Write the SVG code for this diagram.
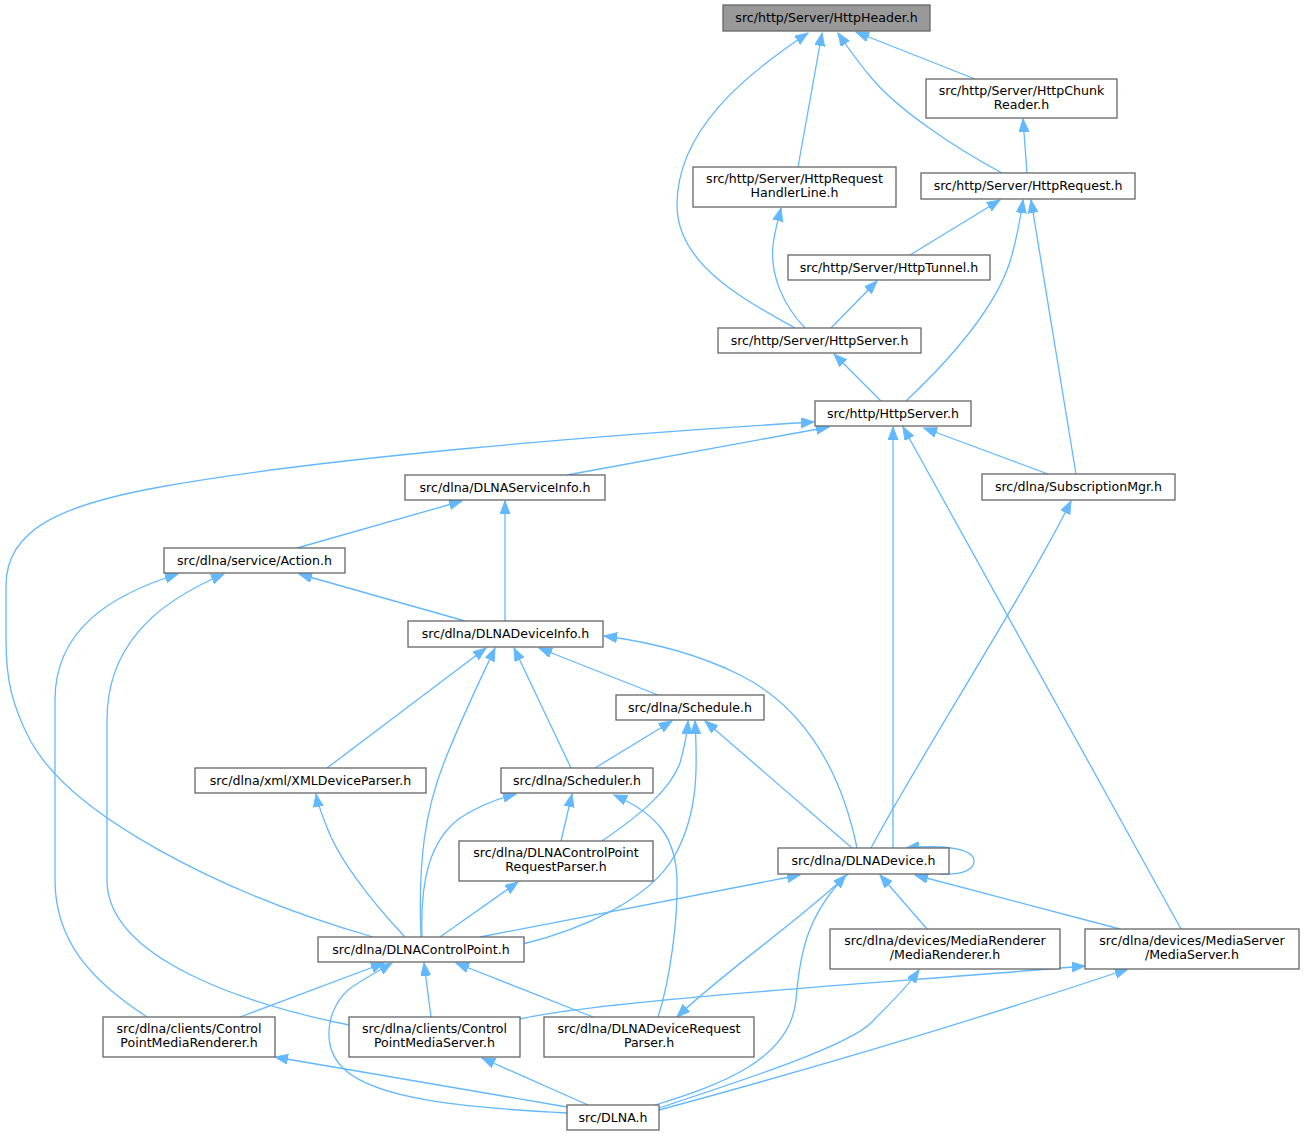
<svg xmlns="http://www.w3.org/2000/svg" width="1304" height="1136" viewBox="0 0 1304 1136">
<style>
.n rect{fill:#ffffff;stroke:#666666;stroke-width:1.3}
.n.root rect{fill:#999999}
.n text{font-family:"DejaVu Sans","Liberation Sans",sans-serif;font-size:12.6px;fill:#000000;text-anchor:middle}
.e path{fill:none;stroke:#63B8FF;stroke-width:1.3;marker-end:url(#ah)}
</style>
<defs>
<marker id="ah" markerUnits="userSpaceOnUse" markerWidth="14" markerHeight="11" refX="13" refY="5" orient="auto">
<path d="M0,0 L13,5 L0,10 z" fill="#63B8FF" stroke="#63B8FF" stroke-width="1"/>
</marker>
</defs>
<rect width="1304" height="1136" fill="#ffffff"/>
<g id="connectors" class="e">
<path d="M795,328 C745,300 677,265 677,205 C677,130 745,75 808,33"/>
<path d="M798,167 L822,33"/>
<path d="M1002,173 C950,145 900,110 875,82 C860,65 848,48 838,33"/>
<path d="M975,79 L856,32"/>
<path d="M1027,173 L1023,119"/>
<path d="M910,255 L1000,200"/>
<path d="M906,401 C960,350 1000,300 1012,255 C1018,232 1021,215 1023,200"/>
<path d="M1076,474 L1031,200"/>
<path d="M831,328 L877,281"/>
<path d="M805,328 C783,305 770,275 773,245 C775,230 778,220 781,208"/>
<path d="M881,401 L834,354"/>
<path d="M373,937 C220,893 70,815 30,740 C12,705 6,680 6,640 L6,585 C6,530 60,505 160,487 C320,458 600,435 814,422"/>
<path d="M567,475 L829,427"/>
<path d="M893,848 L893,427"/>
<path d="M1181,929 L903,427"/>
<path d="M1048,474 L924,428"/>
<path d="M871,848 C915,765 1030,585 1071,501"/>
<path d="M297,548 L462,501"/>
<path d="M505,621 L505,501"/>
<path d="M147,1017 C90,980 55,940 55,880 L55,700 C55,630 110,595 178,574"/>
<path d="M349,1025 C250,1005 107,960 107,880 L107,720 C107,650 150,605 224,574"/>
<path d="M465,621 L299,574"/>
<path d="M327,768 L486,648"/>
<path d="M421,937 C418,860 425,810 445,760 C465,710 485,670 495,648"/>
<path d="M571,768 L514,648"/>
<path d="M658,695 L539,648"/>
<path d="M857,848 C840,765 800,705 740,675 C700,655 650,642 604,636"/>
<path d="M595,768 L672,721"/>
<path d="M602,841 C640,815 670,790 680,763 C685,745 687,735 688,721"/>
<path d="M523,944 C580,930 650,900 675,855 C700,810 697,760 695,721"/>
<path d="M852,848 L705,721"/>
<path d="M422,937 C420,880 430,840 460,818 C480,805 500,798 516,794"/>
<path d="M561,841 L572,794"/>
<path d="M658,1017 C670,980 678,920 677,880 C676,840 660,815 614,795"/>
<path d="M440,937 L518,882"/>
<path d="M480,937 L800,875"/>
<path d="M848,874 C800,920 720,975 677,1017"/>
<path d="M655,1105 C720,1085 790,1060 796,1000 C800,950 808,915 846,875"/>
<path d="M927,929 L880,875"/>
<path d="M1120,929 L915,875"/>
<path d="M940,874 C965,875 974,869 974,861 C974,850 950,844 906,848"/>
<path d="M405,937 C370,900 340,860 328,830 C322,815 318,805 316,794"/>
<path d="M240,1017 L384,963"/>
<path d="M567,1113 C470,1108 375,1100 343,1068 C320,1045 327,1005 352,987 C367,977 380,970 392,963"/>
<path d="M431,1017 L424,963"/>
<path d="M593,1017 L456,963"/>
<path d="M520,1019 C600,1000 900,982 1085,966"/>
<path d="M567,1107 L275,1057"/>
<path d="M588,1105 L482,1058"/>
<path d="M659,1108 C750,1078 850,1045 872,1022 C890,1003 905,990 919,970"/>
<path d="M659,1110 Q900,1045 1128,969"/>
</g>
<g id="n_HttpHeader" class="n root"><rect x="723" y="5" width="207" height="26"/><text x="826.5" y="22">src/http/Server/HttpHeader.h</text></g>
<g id="n_HttpChunkReader" class="n"><rect x="926" y="79" width="191" height="39"/><text x="1021.5" y="95">src/http/Server/HttpChunk</text><text x="1021.5" y="109">Reader.h</text></g>
<g id="n_HttpRequestHandlerLine" class="n"><rect x="693" y="167" width="203" height="40"/><text x="794.5" y="183">src/http/Server/HttpRequest</text><text x="794.5" y="197">HandlerLine.h</text></g>
<g id="n_HttpRequest" class="n"><rect x="921" y="173" width="214" height="26"/><text x="1028" y="190">src/http/Server/HttpRequest.h</text></g>
<g id="n_HttpTunnel" class="n"><rect x="788" y="255" width="202" height="25"/><text x="889" y="272">src/http/Server/HttpTunnel.h</text></g>
<g id="n_ServerHttpServer" class="n"><rect x="718" y="328" width="203" height="25"/><text x="819.5" y="345">src/http/Server/HttpServer.h</text></g>
<g id="n_HttpServer" class="n"><rect x="815" y="401" width="156" height="25"/><text x="893" y="418">src/http/HttpServer.h</text></g>
<g id="n_SubscriptionMgr" class="n"><rect x="982" y="474" width="193" height="26"/><text x="1078.5" y="491">src/dlna/SubscriptionMgr.h</text></g>
<g id="n_DLNAServiceInfo" class="n"><rect x="405" y="475" width="200" height="25"/><text x="505" y="492">src/dlna/DLNAServiceInfo.h</text></g>
<g id="n_Action" class="n"><rect x="164" y="548" width="181" height="25"/><text x="254.5" y="565">src/dlna/service/Action.h</text></g>
<g id="n_DLNADeviceInfo" class="n"><rect x="408" y="621" width="195" height="26"/><text x="505.5" y="638">src/dlna/DLNADeviceInfo.h</text></g>
<g id="n_Schedule" class="n"><rect x="616" y="695" width="148" height="25"/><text x="690" y="712">src/dlna/Schedule.h</text></g>
<g id="n_XMLDeviceParser" class="n"><rect x="195" y="768" width="231" height="25"/><text x="310.5" y="785">src/dlna/xml/XMLDeviceParser.h</text></g>
<g id="n_Scheduler" class="n"><rect x="501" y="768" width="152" height="25"/><text x="577" y="785">src/dlna/Scheduler.h</text></g>
<g id="n_DLNAControlPointRequestParser" class="n"><rect x="459" y="841" width="194" height="40"/><text x="556" y="857">src/dlna/DLNAControlPoint</text><text x="556" y="871">RequestParser.h</text></g>
<g id="n_DLNADevice" class="n"><rect x="778" y="848" width="171" height="26"/><text x="863.5" y="865">src/dlna/DLNADevice.h</text></g>
<g id="n_DLNAControlPoint" class="n"><rect x="318" y="937" width="206" height="25"/><text x="421" y="954">src/dlna/DLNAControlPoint.h</text></g>
<g id="n_MediaRenderer" class="n"><rect x="830" y="929" width="230" height="40"/><text x="945" y="945">src/dlna/devices/MediaRenderer</text><text x="945" y="959">/MediaRenderer.h</text></g>
<g id="n_MediaServer" class="n"><rect x="1085" y="929" width="214" height="40"/><text x="1192" y="945">src/dlna/devices/MediaServer</text><text x="1192" y="959">/MediaServer.h</text></g>
<g id="n_ControlPointMediaRenderer" class="n"><rect x="103" y="1017" width="172" height="40"/><text x="189" y="1033">src/dlna/clients/Control</text><text x="189" y="1047">PointMediaRenderer.h</text></g>
<g id="n_ControlPointMediaServer" class="n"><rect x="349" y="1017" width="171" height="40"/><text x="434.5" y="1033">src/dlna/clients/Control</text><text x="434.5" y="1047">PointMediaServer.h</text></g>
<g id="n_DLNADeviceRequestParser" class="n"><rect x="544" y="1017" width="210" height="40"/><text x="649" y="1033">src/dlna/DLNADeviceRequest</text><text x="649" y="1047">Parser.h</text></g>
<g id="n_DLNA" class="n"><rect x="567" y="1105" width="92" height="25"/><text x="613" y="1122">src/DLNA.h</text></g>
</svg>
